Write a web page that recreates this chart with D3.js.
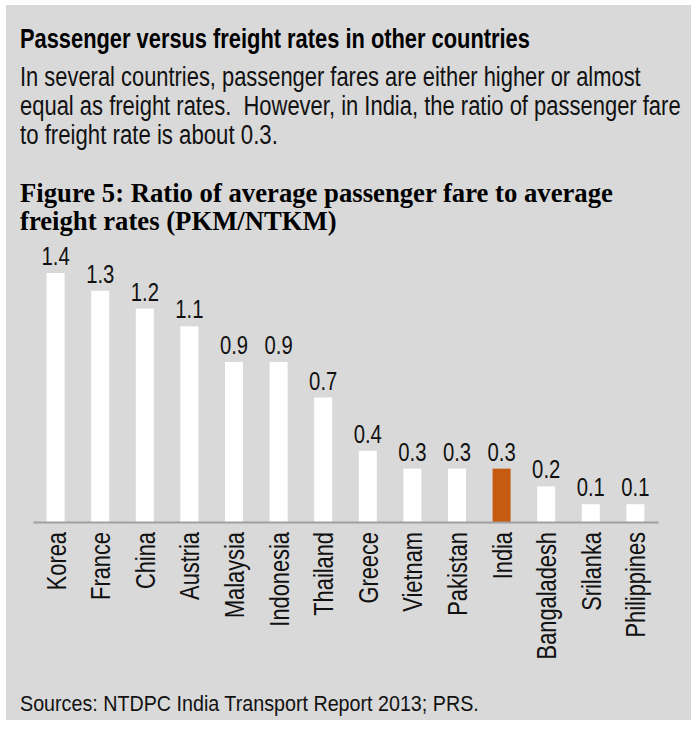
<!DOCTYPE html>
<html>
<head>
<meta charset="utf-8">
<script src="https://cdn.jsdelivr.net/npm/d3@7.9.0/dist/d3.min.js"></script>
<style>
  body { margin: 0; background: #fff; }
  svg { display: block; }
  text { white-space: pre; }
  .sans { font-family: 'Liberation Sans', Arial, sans-serif; }
</style>
</head>
<body>
<svg id="chart" width="692" height="729"></svg>
<script>
// Chart data
const countries = ['Korea', 'France', 'China', 'Austria', 'Malaysia', 'Indonesia', 'Thailand',
  'Greece', 'Vietnam', 'Pakistan', 'India', 'Bangaladesh', 'Srilanka', 'Philippines'];
const ratios = [1.4, 1.3, 1.2, 1.1, 0.9, 0.9, 0.7, 0.4, 0.3, 0.3, 0.3, 0.2, 0.1, 0.1];
const highlight = 'India';

const heading = 'Passenger versus freight rates in other countries';
const bodyLines = [
  'In several countries, passenger fares are either higher or almost',
  'equal as freight rates.  However, in India, the ratio of passenger fare',
  'to freight rate is about 0.3.'
];
const figTitle = [
  'Figure 5: Ratio of average passenger fare to average',
  'freight rates (PKM/NTKM)'
];
const source = 'Sources: NTDPC India Transport Report 2013; PRS.';

const data = countries.map((c, i) => ({ country: c, value: ratios[i] }));

// the original uses Arial Narrow, so squeeze Liberation Sans horizontally
const narrow = 0.78;

const svg = d3.select('#chart');

// Gray panel
svg.append('rect')
  .attr('x', 6).attr('y', 5)
  .attr('width', 685).attr('height', 715)
  .attr('fill', '#d9d9d9');

// place a text at (px, py) and squeeze it to a given width
function fitText(str, px, py, size, width, weight) {
  const t = svg.append('text')
    .attr('class', 'sans')
    .attr('font-size', size)
    .attr('font-weight', weight || 'normal')
    .attr('fill', '#111')
    .text(str);
  const sx = width / t.node().getComputedTextLength();
  t.attr('transform', `translate(${px},${py}) scale(${sx},1)`);
  return t;
}

// Text blocks
fitText(heading, 20, 48, 28, 510, 'bold').attr('fill', '#000');

const bodyWidths = [621, 661, 258];
bodyLines.forEach((line, i) => fitText(line, 20, 86 + i * 28.8, 28, bodyWidths[i]));

svg.selectAll('.fig-title')
  .data(figTitle)
  .join('text')
  .attr('class', 'fig-title')
  .attr('x', 20)
  .attr('y', (d, i) => 202 + i * 28)
  .attr('font-family', "'Liberation Serif', 'Times New Roman', serif")
  .attr('font-size', 26.7).attr('font-weight', 'bold')
  .text(d => d);

fitText(source, 20, 711, 22, 459);

// Scales
const x = d3.scaleBand()
  .domain(countries)
  .range([33, 658])
  .paddingInner(0.596)
  .paddingOuter(0.305);

const y = d3.scaleLinear()
  .domain([0, 1.4])
  .range([522, 273]);

// Bars
svg.selectAll('.bar')
  .data(data)
  .join('rect')
  .attr('class', 'bar')
  .attr('x', d => x(d.country))
  .attr('y', d => y(d.value))
  .attr('width', x.bandwidth())
  .attr('height', d => y(0) - y(d.value))
  .attr('fill', d => d.country === highlight ? '#c55a11' : '#ffffff');

// Value labels
svg.selectAll('.val')
  .data(data)
  .join('text')
  .attr('class', 'sans val')
  .attr('transform', d => `translate(${x(d.country) + x.bandwidth() / 2},${y(d.value) - 8}) scale(${narrow},1)`)
  .attr('text-anchor', 'middle')
  .attr('font-size', 26)
  .attr('fill', '#111')
  .text(d => d3.format('.1f')(d.value));

// Category axis
const axis = svg.append('g')
  .attr('transform', `translate(0,${y(0)})`)
  .call(d3.axisBottom(x).tickSize(0).tickPadding(0));

axis.select('.domain').attr('stroke', '#a0a0a0').attr('stroke-width', 2);

axis.selectAll('.tick text')
  .attr('class', 'sans')
  .attr('font-size', 28)
  .attr('fill', '#111')
  .attr('transform', `rotate(-90) scale(${narrow},1)`)
  .attr('x', -10 / narrow)
  .attr('y', 0)
  .attr('dy', '0.36em')
  .attr('text-anchor', 'end');
</script>
</body>
</html>
